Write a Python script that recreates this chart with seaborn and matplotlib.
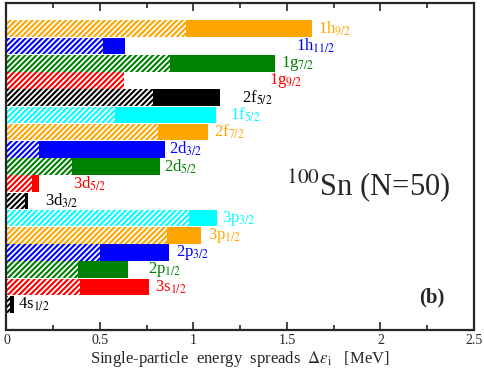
import numpy as np
import pandas as pd
import seaborn as sns
import matplotlib
matplotlib.use("Agg")
import matplotlib.pyplot as plt
from matplotlib.ticker import MultipleLocator

# orbitals, top to bottom
orbitals = ["1h9/2", "1h11/2", "1g7/2", "1g9/2", "2f5/2", "1f5/2", "2f7/2",
            "2d3/2", "2d5/2", "3d5/2", "3d3/2", "3p3/2", "3p1/2", "2p3/2",
            "2p1/2", "3s1/2", "4s1/2"]
# total spread (solid) and hatched part
total = [1.634, 0.634, 1.436, 0.63, 1.142, 1.12, 1.078, 0.846, 0.823,
         0.176, 0.117, 1.127, 1.042, 0.871, 0.651, 0.76, 0.042]
hatched = [0.96, 0.515, 0.874, 0.628, 0.782, 0.58, 0.808, 0.176, 0.348,
           0.136, 0.099, 0.976, 0.857, 0.5, 0.38, 0.393, 0.019]
colors = ["#FFA500", "#0000FF", "#008000", "#FF0000", "#000000", "#00FFFF"] * 3
colors = colors[:len(orbitals)]
# where the labels start (x, MeV)
label_x = [1.665, 1.548, 1.468, 1.404, 1.259, 1.195, 1.11, 0.869, 0.842,
           0.356, 0.206, 1.152, 1.078, 0.906, 0.757, 0.794, 0.061]

df = pd.DataFrame({"orbital": orbitals, "total": total, "hatched": hatched})

plt.rcParams["mathtext.fontset"] = "stix"
plt.rcParams["hatch.linewidth"] = 1.3
sns.set_style("ticks")
plt.rcParams["font.family"] = ["Liberation Serif", "DejaVu Serif"]

fig = plt.figure(figsize=(4.85, 3.71), dpi=100)
ax = fig.add_axes([0.0134, 0.1105, 0.9636, 0.8815])

sns.barplot(data=df, x="total", y="orbital", hue="orbital", palette=colors,
            width=0.97, linewidth=0, saturation=1, legend=False, orient="h", ax=ax)
sns.barplot(data=df, x="hatched", y="orbital", hue="orbital", palette=colors,
            width=0.97, linewidth=0, saturation=1, legend=False, orient="h", ax=ax)
n = len(orbitals)
for p in ax.patches[n:]:
    p.set_hatch("//////")
    p.set_edgecolor("white")
    p.set_linewidth(0)

for i, (name, c, lx) in enumerate(zip(orbitals, colors, label_x)):
    lbl = name[:2] + "$_{" + name[2:] + "}$"
    ax.text(lx, i, lbl, color=c, fontsize=12, va="center", ha="left")

ax.text(0.949, 0.413, r"$^{100}$Sn (N=50)", transform=ax.transAxes,
        fontsize=22, ha="right", va="baseline")
ax.text(0.938, 0.1, "(b)", transform=ax.transAxes, fontsize=15,
        fontweight="bold", ha="right", va="center")

ax.set_xlim(0, 2.5)
ax.set_ylim(n + 0.5, -1.5)
ax.set_yticks([])
ax.set_ylabel("")
ax.set_xlabel(r"Single-particle  energy  spreads  $\Delta\varepsilon_{\rm i}$   [MeV]",
              fontsize=12, labelpad=1)
ax.xaxis.set_minor_locator(MultipleLocator(0.25))
ax.set_xticks([0, 0.5, 1, 1.5, 2, 2.5])
ax.set_xticklabels(["0", "0.5", "1", "1.5", "2", "2.5"])
ax.tick_params(axis="x", which="both", direction="in", top=True, labelsize=10, pad=3)
ax.tick_params(axis="x", which="major", length=6, width=1.2)
ax.tick_params(axis="x", which="minor", length=3.5, width=1.2)
for s in ax.spines.values():
    s.set_linewidth(1.6)

fig.savefig("out.png", dpi=100)
